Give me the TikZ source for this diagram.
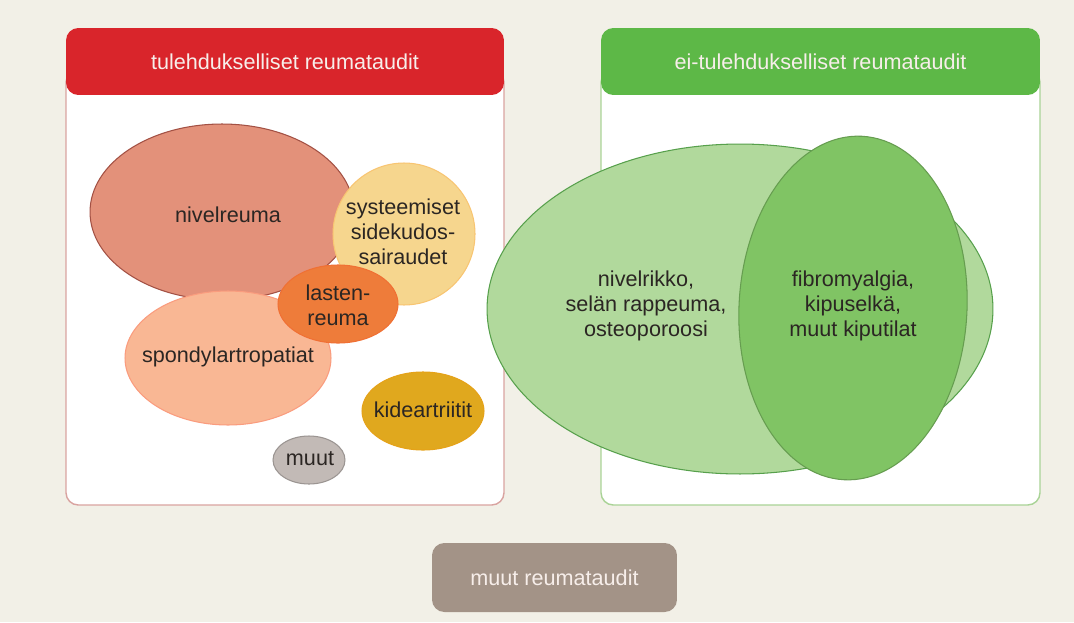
\documentclass[tikz,border=0pt]{standalone}
\usepackage{fontspec}
\setmainfont{Liberation Sans}
\usetikzlibrary{shapes.geometric}
\definecolor{bgcream}{HTML}{F2F0E7}
\definecolor{redhead}{HTML}{D9252B}
\definecolor{redline}{HTML}{D9A3A0}
\definecolor{greenhead}{HTML}{5DB847}
\definecolor{greenline}{HTML}{A9D396}
\definecolor{nivelfill}{HTML}{E3917A}
\definecolor{sysfill}{HTML}{F6D68E}
\definecolor{lastenfill}{HTML}{EE7C3A}
\definecolor{spondfill}{HTML}{F9B794}
\definecolor{kidefill}{HTML}{E0A81E}
\definecolor{muutfill}{HTML}{C2BAB6}
\definecolor{lightgreen}{HTML}{B1D99C}
\definecolor{darkgreen}{HTML}{80C464}
\definecolor{otherfill}{HTML}{A39387}
\definecolor{headtext}{HTML}{F7EEEA}
\definecolor{bodytext}{HTML}{2B2623}
\tikzset{
  head/.style ={rectangle, rounded corners=7pt, minimum height=1.34cm,
                text=headtext, font=\fontsize{12.3}{14.2}\selectfont},
  blob/.style ={ellipse, inner sep=0pt, line width=0.6pt},
  lbl/.style  ={align=center, text=bodytext, font=\fontsize{12.3}{14.2}\selectfont}
}
\begin{document}
\begin{tikzpicture}[x=0.02cm, y=-0.02cm]
  \fill[bgcream] (0,0) rectangle (1074,622);
  \useasboundingbox (0,0) rectangle (1074,622);
  % panels
  \draw[redline, fill=white, line width=0.8pt, rounded corners=7pt] (66,70) rectangle (504,505);
  \draw[greenline, fill=white, line width=0.8pt, rounded corners=7pt] (601,70) rectangle (1040,505);
  \node[head, fill=redhead, minimum width=8.76cm] (infl) at (285,61.5) {tulehdukselliset reumataudit};
  \node[head, fill=greenhead, minimum width=8.78cm] (noninfl) at (820.5,61.5) {ei-tulehdukselliset reumataudit};
  % inflammatory
  \node[blob, draw=nivelfill!80!red!70!black, fill=nivelfill, minimum width=5.28cm, minimum height=3.52cm] (nivel) at (222,212) {};
  \node[lbl] (niveltxt) at (228,215) {nivelreuma};
  \node[blob, draw=spondfill!85!red, fill=spondfill, minimum width=4.12cm, minimum height=2.68cm] (spond) at (228,358) {};
  \node[lbl] (spondtxt) at (228,357) {spondylartropatiat};
  \node[blob, draw=sysfill!80!orange, fill=sysfill, minimum width=2.84cm, minimum height=2.84cm] (sys) at (404,234) {};
  \node[lbl] (systxt) at (403,232) {systeemiset\\sidekudos-\\sairaudet};
  \node[blob, draw=lastenfill!90!red, fill=lastenfill, minimum width=2.40cm, minimum height=1.56cm] (lasten) at (338,304) {};
  \node[lbl] (lastentxt) at (338,305) {lasten-\\reuma};
  \node[blob, draw=kidefill!85!orange, fill=kidefill, minimum width=2.44cm, minimum height=1.56cm] (kide) at (423,411) {};
  \node[lbl] (kidetxt) at (423,410) {kideartriitit};
  \node[blob, draw=muutfill!80!black, fill=muutfill, minimum width=1.44cm, minimum height=0.96cm] (muut) at (309,460) {};
  \node[lbl] (muuttxt) at (310,459) {muut};
  % non-inflammatory
  \node[blob, draw=lightgreen!70!green!70!black, fill=lightgreen, minimum width=10.12cm, minimum height=6.60cm] (degen) at (740,309) {};
  \node[blob, draw=darkgreen!80!black, fill=darkgreen, minimum width=4.56cm, minimum height=6.88cm, rotate=-3] (pain) at (853,308) {};
  \node[lbl] (degentxt) at (646,306) {nivelrikko,\\selän rappeuma,\\osteoporoosi};
  \node[lbl] (paintxt) at (853,306) {fibromyalgia,\\kipuselkä,\\muut kiputilat};
  % other
  \node[head, fill=otherfill, minimum width=4.9cm, minimum height=1.38cm] (other) at (554.5,577.5) {muut reumataudit};
\end{tikzpicture}
\end{document}
